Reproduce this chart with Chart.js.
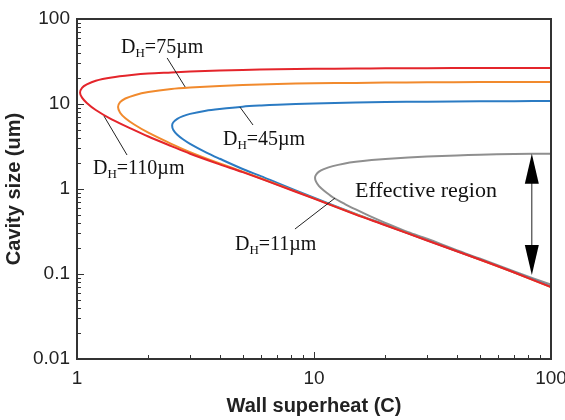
<!DOCTYPE html>
<html>
<head>
<meta charset="utf-8">
<title>Cavity size vs wall superheat</title>
<script src="https://cdn.jsdelivr.net/npm/chart.js@4.4.1/dist/chart.umd.min.js"></script>
<style>
  html, body { margin: 0; padding: 0; background: #fff; }
</style>
</head>
<body>
<canvas id="chart" width="565" height="420"></canvas>
<script>
// Each curve is traced from the right end of the upper branch, round the nose,
// and back out along the lower branch.
const superheat110 = [100, 70, 50, 30, 20, 15, 10, 7, 5, 4, 3, 2.5, 2, 1.7, 1.4, 1.2, 1.1, 1.05, 1.03,
                      1.05, 1.1, 1.2, 1.4, 1.7, 2, 2.5, 3, 4, 5, 7, 10, 15, 20, 30, 50, 70, 100];
const cavity110 = [26.5, 26.5, 26.45, 26.4, 26.25, 26.1, 25.9, 25.6, 25.2, 24.8, 24.1, 23.5, 22.8, 21.9, 20.5, 18.8, 17.0, 15.5, 13.6,
                   11.9, 10.3, 8.5, 6.6, 5.1, 4.15, 3.2, 2.6, 1.95, 1.58, 1.12, 0.77, 0.5, 0.375, 0.248, 0.148, 0.104, 0.07];

const superheat75 = [100, 70, 50, 30, 20, 15, 10, 7, 5, 4, 3, 2.5, 2, 1.75, 1.6, 1.52, 1.49,
                     1.52, 1.6, 1.75, 2, 2.5, 3, 4, 5, 7, 10, 15, 20, 30, 50, 70, 100];
const cavity75 = [18.2, 18.15, 18.1, 18.0, 17.85, 17.7, 17.5, 17.2, 16.7, 16.3, 15.6, 15.0, 13.8, 12.7, 11.6, 10.5, 9.2,
                  7.9, 6.8, 5.7, 4.6, 3.4, 2.72, 2.0, 1.6, 1.13, 0.775, 0.505, 0.377, 0.249, 0.148, 0.104, 0.07];

const superheat45 = [100, 70, 50, 30, 20, 15, 10, 7, 6, 5, 4, 3.5, 3, 2.8, 2.65, 2.55, 2.52,
                     2.55, 2.65, 2.8, 3, 3.5, 4, 5, 6, 7, 10, 15, 20, 30, 50, 70, 100];
const cavity45 = [10.85, 10.8, 10.75, 10.65, 10.55, 10.4, 10.15, 9.8, 9.6, 9.3, 8.75, 8.35, 7.65, 7.2, 6.7, 6.1, 5.6,
                  4.95, 4.35, 3.85, 3.4, 2.7, 2.27, 1.72, 1.41, 1.18, 0.79, 0.51, 0.38, 0.25, 0.149, 0.105, 0.071];

const superheat11 = [100, 70, 50, 40, 30, 25, 20, 17.5, 15, 13.5, 12, 11, 10.5, 10.2, 10.1,
                     10.2, 10.5, 11, 12, 13.5, 15, 17.5, 20, 25, 30, 40, 50, 70, 100];
const cavity11 = [2.6, 2.58, 2.53, 2.48, 2.41, 2.35, 2.26, 2.19, 2.09, 2.0, 1.86, 1.71, 1.6, 1.47, 1.36,
                  1.22, 1.08, 0.96, 0.8, 0.665, 0.575, 0.47, 0.4, 0.31, 0.26, 0.19, 0.152, 0.107, 0.075];

const xTicks = [1, 10, 100];
const xTickLabels = ['1', '10', '100'];
const yTicks = [0.01, 0.1, 1, 10, 100];
const yTickLabels = ['0.01', '0.1', '1', '10', '100'];

// curve labels: text position, then a leader line from the curve to the text
const curveLabels = [
  { sub: 'H', rest: '=75\u00b5m',  at: [1.534, 39.8],  leader: [[2.86, 15.85], [2.40, 34.8]] },
  { sub: 'H', rest: '=110\u00b5m', at: [1.168, 1.50],  leader: [[1.30, 7.2], [1.626, 2.51]] },
  { sub: 'H', rest: '=45\u00b5m',  at: [4.13, 3.30],   leader: [[5.53, 5.66], [4.87, 9.2]] },
  { sub: 'H', rest: '=11\u00b5m',  at: [4.64, 0.1916], leader: [[12.27, 0.783], [8.31, 0.338]] }
];
const regionText = { text: 'Effective region', at: [14.9, 0.806] };
const regionArrow = { x: 83, top: 2.6, bottom: 0.0973 };

function toPoints(xs, ys) {
  return xs.map((v, i) => ({ x: v, y: ys[i] }));
}

function curve(label, xs, ys, color) {
  return {
    label: label,
    data: toPoints(xs, ys),
    showLine: true,
    borderColor: color,
    backgroundColor: color,
    borderWidth: 2,
    pointRadius: 0,
    tension: 0.3,
    fill: false
  };
}

const serif = '"Liberation Serif", "Times New Roman", serif';
const sans = '"Liberation Sans", Arial, Helvetica, sans-serif';

const decorations = {
  id: 'decorations',
  afterDraw(chart) {
    const { ctx, chartArea: a, scales: { x, y } } = chart;
    ctx.save();

    // inward ticks on the left and bottom axes
    ctx.strokeStyle = '#333';
    ctx.lineWidth = 1;
    ctx.beginPath();
    for (let dec = 1; dec < 100; dec *= 10) {
      for (let m = 1; m <= 9; m++) {
        const px = Math.round(x.getPixelForValue(dec * m)) + 0.5;
        const len = m === 1 ? 7 : 4;
        ctx.moveTo(px, a.bottom);
        ctx.lineTo(px, a.bottom - len);
      }
    }
    for (let dec = 0.01; dec < 99; dec *= 10) {
      for (let m = 1; m <= 9; m++) {
        const py = Math.round(y.getPixelForValue(dec * m)) + 0.5;
        const len = m === 1 ? 7 : 4;
        ctx.moveTo(a.left, py);
        ctx.lineTo(a.left + len, py);
      }
    }
    ctx.stroke();

    // frame
    ctx.lineWidth = 2;
    ctx.strokeStyle = '#333';
    ctx.strokeRect(a.left, a.top, a.right - a.left, a.bottom - a.top);

    // leader lines and curve labels
    ctx.strokeStyle = '#222';
    ctx.lineWidth = 1;
    ctx.fillStyle = '#111';
    ctx.textBaseline = 'alphabetic';
    ctx.textAlign = 'left';
    curveLabels.forEach(l => {
      ctx.beginPath();
      ctx.moveTo(x.getPixelForValue(l.leader[0][0]), y.getPixelForValue(l.leader[0][1]));
      ctx.lineTo(x.getPixelForValue(l.leader[1][0]), y.getPixelForValue(l.leader[1][1]));
      ctx.stroke();

      let tx = x.getPixelForValue(l.at[0]);
      const ty = y.getPixelForValue(l.at[1]);
      ctx.font = '20px ' + serif;
      ctx.fillText('D', tx, ty);
      tx += ctx.measureText('D').width;
      ctx.font = '13px ' + serif;
      ctx.fillText(l.sub, tx, ty + 4);
      tx += ctx.measureText(l.sub).width;
      ctx.font = '20px ' + serif;
      ctx.fillText(l.rest, tx, ty);
    });

    ctx.font = '22px ' + serif;
    ctx.fillText(regionText.text, x.getPixelForValue(regionText.at[0]), y.getPixelForValue(regionText.at[1]));

    // double-headed arrow spanning the effective region
    const ax = x.getPixelForValue(regionArrow.x);
    const top = y.getPixelForValue(regionArrow.top);
    const bot = y.getPixelForValue(regionArrow.bottom);
    const head = 30, half = 7;
    ctx.beginPath();
    ctx.moveTo(ax, top + head - 2);
    ctx.lineTo(ax, bot - head + 2);
    ctx.stroke();
    ctx.fillStyle = '#000';
    ctx.beginPath();
    ctx.moveTo(ax, top);
    ctx.lineTo(ax - half, top + head);
    ctx.lineTo(ax + half, top + head);
    ctx.closePath();
    ctx.fill();
    ctx.beginPath();
    ctx.moveTo(ax, bot);
    ctx.lineTo(ax - half, bot - head);
    ctx.lineTo(ax + half, bot - head);
    ctx.closePath();
    ctx.fill();

    ctx.restore();
  }
};

new Chart(document.getElementById('chart'), {
  type: 'scatter',
  data: {
    datasets: [
      curve('DH=110um', superheat110, cavity110, '#e4252b'),
      curve('DH=75um', superheat75, cavity75, '#f18a2d'),
      curve('DH=45um', superheat45, cavity45, '#2b7bc3'),
      curve('DH=11um', superheat11, cavity11, '#8f8f8f')
    ]
  },
  options: {
    responsive: false,
    animation: false,
    layout: { padding: { left: 0, right: 14, top: 19, bottom: 0 } },
    plugins: {
      legend: { display: false },
      tooltip: { enabled: false }
    },
    scales: {
      x: {
        type: 'logarithmic',
        min: 1,
        max: 100,
        grid: { display: false, drawTicks: false },
        border: { display: false },
        ticks: {
          autoSkip: false,
          maxRotation: 0,
          padding: 8,
          color: '#222',
          font: { family: sans, size: 19 },
          callback: (v, i) => xTickLabels[i]
        },
        afterBuildTicks: s => { s.ticks = xTicks.map(v => ({ value: v })); },
        afterFit: s => { s.height = 61; s.paddingLeft = 0; s.paddingRight = 0; },
        title: {
          display: true,
          text: 'Wall superheat (C)',
          color: '#222',
          padding: { top: 0, bottom: 2 },
          font: { family: sans, size: 20, weight: 'bold' }
        }
      },
      y: {
        type: 'logarithmic',
        min: 0.01,
        max: 100,
        grid: { display: false, drawTicks: false },
        border: { display: false },
        ticks: {
          autoSkip: false,
          padding: 7,
          color: '#222',
          font: { family: sans, size: 19 },
          callback: (v, i) => yTickLabels[i]
        },
        afterBuildTicks: s => { s.ticks = yTicks.map(v => ({ value: v })); },
        afterFit: s => { s.width = 77; s.paddingTop = 0; s.paddingBottom = 0; },
        title: {
          display: true,
          text: 'Cavity size (um)',
          color: '#222',
          padding: { top: 2, bottom: 0 },
          font: { family: sans, size: 20, weight: 'bold' }
        }
      }
    }
  },
  plugins: [decorations]
});
</script>
</body>
</html>
